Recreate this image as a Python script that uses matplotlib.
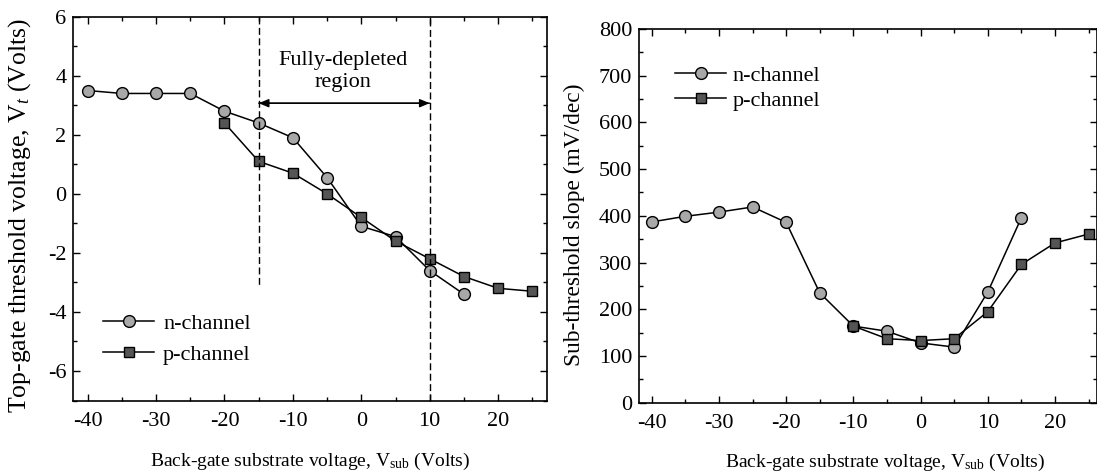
import matplotlib
matplotlib.use("Agg")
import matplotlib.pyplot as plt
from matplotlib.ticker import MultipleLocator

plt.rcParams["font.family"] = "Liberation Serif"
plt.rcParams["mathtext.fontset"] = "custom"
plt.rcParams["mathtext.rm"] = "Liberation Serif"
plt.rcParams["mathtext.it"] = "Liberation Serif:italic"
plt.rcParams["axes.unicode_minus"] = False

# threshold voltage (left panel)
vt_n_x = [-40, -35, -30, -25, -20, -15, -10, -5, 0, 5, 10, 15]
vt_n_y = [3.5, 3.4, 3.4, 3.4, 2.8, 2.4, 1.9, 0.55, -1.1, -1.45, -2.6, -3.4]
vt_p_x = [-20, -15, -10, -5, 0, 5, 10, 15, 20, 25]
vt_p_y = [2.4, 1.1, 0.7, 0.0, -0.8, -1.6, -2.2, -2.8, -3.2, -3.3]

# sub-threshold slope (right panel)
ss_n_x = [-40, -35, -30, -25, -20, -15, -10, -5, 0, 5, 10, 15]
ss_n_y = [387, 399, 408, 419, 386, 235, 164, 153, 128, 119, 237, 396]
ss_p_x = [-10, -5, 0, 5, 10, 15, 20, 25]
ss_p_y = [164, 137, 133, 137, 195, 296, 342, 361]

region_edges = [-15, 10]

W, H = 1097, 476
fig = plt.figure(figsize=(W / 100, H / 100), dpi=100)
ax1 = fig.add_axes([73.3 / W, (H - 400.5) / H, 473.4 / W, 383.8 / H])
ax2 = fig.add_axes([639 / W, (H - 402.7) / H, 458 / W, 373.7 / H])

tick_fs = 16
n_style = dict(color="black", lw=1.1, marker="o", ms=8.5, mfc="#a8a8a8",
               mec="black", mew=1.0, label="n-channel")
p_style = dict(color="black", lw=1.1, marker="s", ms=7.5, mfc="#555555",
               mec="black", mew=1.0, label="p-channel")
head = "-|>,head_length=0.6,head_width=0.25"

# left panel
ax1.plot(vt_n_x, vt_n_y, **n_style)
ax1.plot(vt_p_x, vt_p_y, **p_style)
ax1.plot([region_edges[0]] * 2, [6, -3.15], ls=(0, (5, 2.5)), color="black", lw=1)
ax1.axvline(region_edges[1], ls=(0, (5, 2.5)), color="black", lw=1)
ax1.annotate("", xy=(region_edges[0], 3.07), xytext=(region_edges[1], 3.07),
             arrowprops=dict(arrowstyle=head, color="black", lw=1,
                             shrinkA=0, shrinkB=0))
ax1.annotate("", xy=(region_edges[1], 3.07), xytext=(region_edges[0], 3.07),
             arrowprops=dict(arrowstyle=head, color="black", lw=1,
                             shrinkA=0, shrinkB=0))
ax1.text(-2.7, 4.15, "Fully-depleted\nregion", ha="center", va="center",
         fontsize=16, linespacing=1.25)
ax1.set_xlim(-42.1, 27.1)
ax1.set_ylim(-7, 6)
ax1.xaxis.set_major_locator(MultipleLocator(10))
ax1.xaxis.set_minor_locator(MultipleLocator(5))
ax1.yaxis.set_major_locator(MultipleLocator(2))
ax1.yaxis.set_minor_locator(MultipleLocator(1))
ax1.set_ylabel("Top-gate threshold voltage, V$_{t}$ (Volts)", fontsize=18.5)
ax1.yaxis.set_label_coords(-0.085, 0.483)
ax1.set_xlabel("Back-gate substrate voltage, V$_{\\mathrm{sub}}$ (Volts)",
               fontsize=14)
ax1.xaxis.set_label_coords(0.5, -0.132)
ax1.legend(loc="center left", bbox_to_anchor=(0.063, 0.16), frameon=False,
           fontsize=16, handlelength=2.3, handletextpad=0.4, labelspacing=0.45,
           borderpad=0, borderaxespad=0)

# right panel
ax2.plot(ss_n_x, ss_n_y, **n_style)
ax2.plot(ss_p_x, ss_p_y, clip_on=False, **p_style)
ax2.set_xlim(-41.9, 26.25)
ax2.set_ylim(0, 800)
ax2.xaxis.set_major_locator(MultipleLocator(10))
ax2.xaxis.set_minor_locator(MultipleLocator(5))
ax2.yaxis.set_major_locator(MultipleLocator(100))
ax2.yaxis.set_minor_locator(MultipleLocator(50))
ax2.set_ylabel("Sub-threshold slope (mV/dec)", fontsize=16.8)
ax2.yaxis.set_label_coords(-0.118, 0.475)
ax2.set_xlabel("Back-gate substrate voltage, V$_{\\mathrm{sub}}$ (Volts)",
               fontsize=14)
ax2.xaxis.set_label_coords(0.537, -0.132)
ax2.legend(loc="center left", bbox_to_anchor=(0.079, 0.841), frameon=False,
           fontsize=16, handlelength=2.3, handletextpad=0.27, labelspacing=0.2,
           borderpad=0, borderaxespad=0)

for ax in (ax1, ax2):
    ax.tick_params(which="both", direction="in", top=True, right=True,
                   labelsize=tick_fs, width=1)
    ax.tick_params(axis="x", which="both", pad=8)
    ax.tick_params(axis="y", which="both", pad=5)
    ax.tick_params(which="major", length=5)
    ax.tick_params(which="minor", length=3)
    for s in ax.spines.values():
        s.set_linewidth(1.2)

fig.savefig("out.png", dpi=100)
